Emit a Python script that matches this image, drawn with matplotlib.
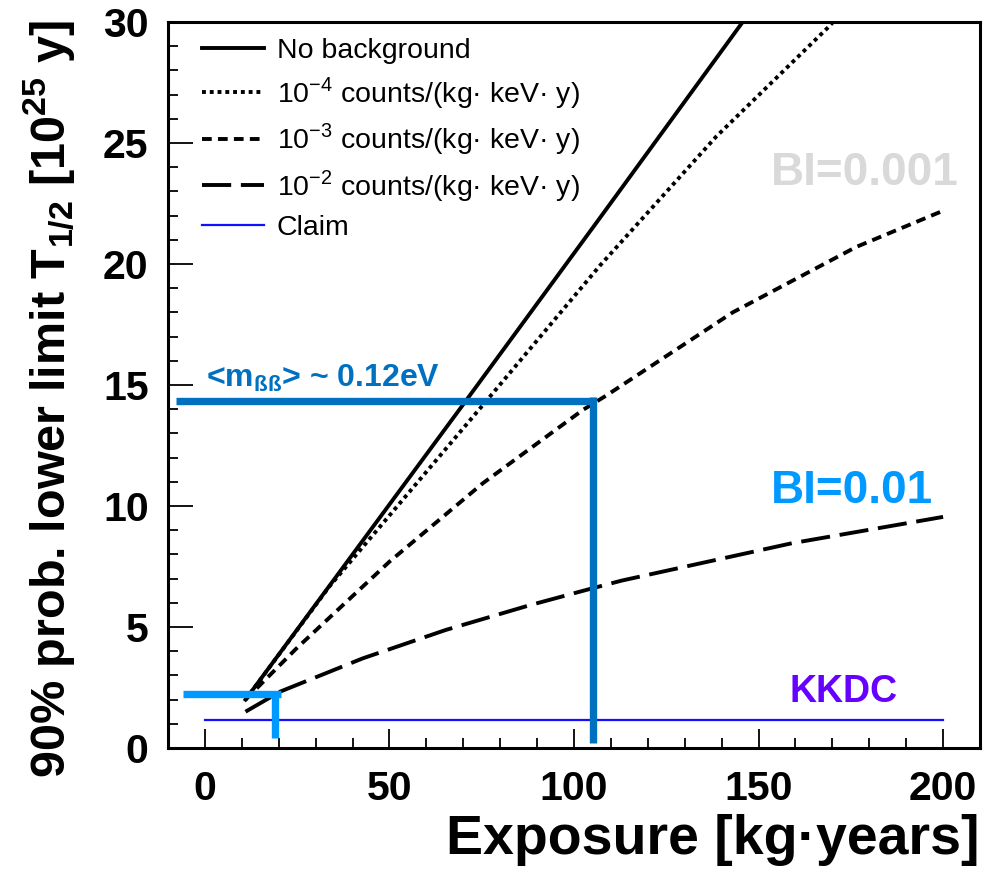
import numpy as np
import matplotlib
matplotlib.use("Agg")
import matplotlib.pyplot as plt
from matplotlib.ticker import MultipleLocator

plt.rcParams['font.family'] = ['Liberation Sans', 'DejaVu Sans']
plt.rcParams['mathtext.fontset'] = 'custom'
plt.rcParams['mathtext.rm'] = 'Liberation Sans'
plt.rcParams['mathtext.bf'] = 'Liberation Sans:bold'
plt.rcParams['mathtext.sf'] = 'Liberation Sans:bold'

# values
exp_nobg = [11, 70, 107, 150]
t_nobg = [2.0, 14.2, 21.9, 30.9]

exp_1e4 = [11, 33.7, 75.3, 107, 138.5, 169, 172]
t_1e4 = [2.0, 6.67, 14.17, 19.93, 25.26, 29.8, 30.3]

exp_1e3 = [11, 24.7, 50, 75.3, 102.4, 108.7, 143, 176.4, 200]
t_1e3 = [2.0, 4.1, 7.7, 10.94, 13.97, 14.56, 18.0, 20.7, 22.2]

exp_1e2 = [11, 20.4, 42.7, 65.3, 88, 105, 113, 159, 200]
t_1e2 = [1.5, 2.33, 3.7, 4.88, 5.9, 6.6, 6.92, 8.46, 9.55]

claim_x = [0, 200]
claim_y = [1.16, 1.16]

labels = ["No background",
          "10$^{-4}$ counts/(kg· keV· y)",
          "10$^{-3}$ counts/(kg· keV· y)",
          "10$^{-2}$ counts/(kg· keV· y)",
          "Claim"]

# hand-drawn markers (target exposure / half-life)
mbb_h_x, mbb_h_y = [-7.7, 106.0], [14.35, 14.35]
mbb_v_x, mbb_v_y = [105.1, 105.1], [14.5, 0.2]
bi_h_x, bi_h_y = [-6.0, 20.7], [2.24, 2.24]
bi_v_x, bi_v_y = [19.1, 19.1], [2.3, 0.41]

fig = plt.figure(figsize=(9.83, 8.71), dpi=100)
ax = fig.add_axes([168/983, 123/871, 812/983, 726/871])

lw = 2.8
ax.plot(exp_nobg, t_nobg, color='black', lw=lw, ls='-', label=labels[0])
ax.plot(exp_1e4, t_1e4, color='black', lw=lw, ls=(0, (1.0, 1.0)), label=labels[1])
ax.plot(exp_1e3, t_1e3, color='black', lw=lw, ls=(0, (2.5, 1.6)), label=labels[2])
ax.plot(exp_1e2, t_1e2, color='black', lw=lw, ls=(0, (7.5, 2.5)), label=labels[3])
ax.plot(claim_x, claim_y, color='#1010ff', lw=1.6, label=labels[4])

c_dark = '#0070c0'
c_light = '#0099ff'
ax.plot(mbb_h_x, mbb_h_y, color=c_dark, lw=5.3, solid_capstyle='butt')
ax.plot(mbb_v_x, mbb_v_y, color=c_dark, lw=5.3, solid_capstyle='butt')
ax.plot(bi_h_x, bi_h_y, color=c_light, lw=5.3, solid_capstyle='butt')
ax.plot(bi_v_x, bi_v_y, color=c_light, lw=5.3, solid_capstyle='butt')

ax.text(0.2, 14.93, r"<m$_{\mathsf{ßß}}$> ~ 0.12eV", color=c_dark, fontsize=23,
        fontweight='bold', ha='left', va='baseline')
ax.text(153.4, 23.26, "BI=0.001", color='#d9d9d9', fontsize=33,
        fontweight='bold', ha='left', va='baseline')
ax.text(153.4, 10.11, "BI=0.01", color=c_light, fontsize=33,
        fontweight='bold', ha='left', va='baseline')
ax.text(158.3, 1.91, "KKDC", color='#6600ff', fontsize=27,
        fontweight='bold', ha='left', va='baseline')

ax.set_xlim(-10, 210)
ax.set_ylim(0, 30)
ax.xaxis.set_major_locator(MultipleLocator(50))
ax.xaxis.set_minor_locator(MultipleLocator(10))
ax.yaxis.set_major_locator(MultipleLocator(5))
ax.yaxis.set_minor_locator(MultipleLocator(1))
ax.tick_params(which='both', direction='in', width=1.3)
ax.tick_params(axis='x', which='major', length=14, pad=16)
ax.tick_params(axis='x', which='minor', length=7)
ax.tick_params(axis='y', which='major', length=18, pad=14)
ax.tick_params(axis='y', which='minor', length=7)
for lab in ax.get_xticklabels() + ax.get_yticklabels():
    lab.set_fontsize(29.5)
    lab.set_fontweight('bold')
for s in ax.spines.values():
    s.set_linewidth(2.2)

ax.set_xlabel("Exposure [kg·years]", fontsize=40, fontweight='bold', loc='right')
ax.set_ylabel(r"90% prob. lower limit T$_{\mathbf{1/2}}$ [10$^{\mathbf{25}}$ y]",
              fontsize=35, fontweight='bold', loc='top')
ax.yaxis.set_label_coords(-0.1108, 1.003)

ax.legend(loc='upper left', bbox_to_anchor=(0.0415, 0.978), frameon=False,
          fontsize=20.5, handlelength=2.18, handletextpad=0.45, labelspacing=0.38,
          borderpad=0, borderaxespad=0)

fig.savefig("out.png", dpi=100)
